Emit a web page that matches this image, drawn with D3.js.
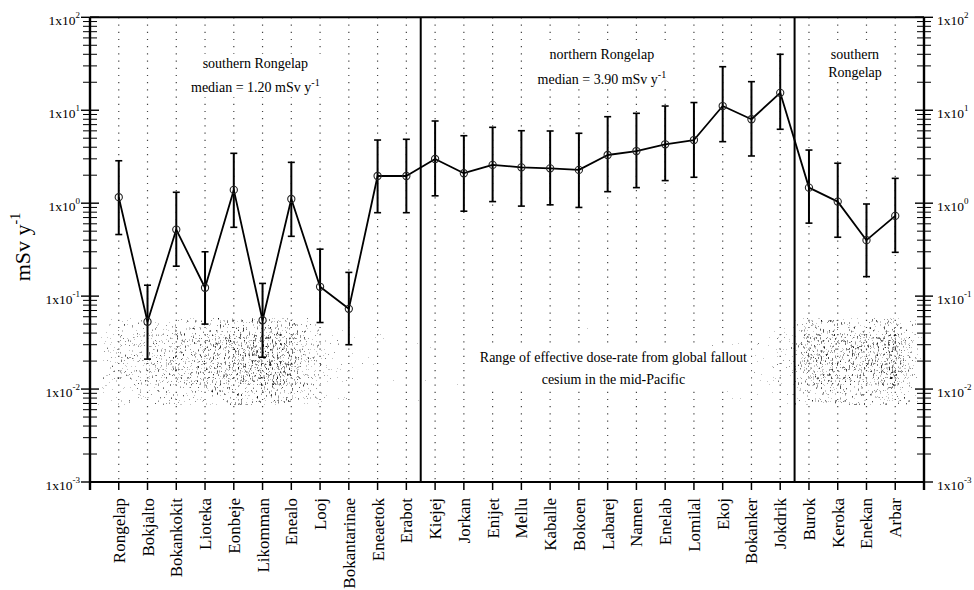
<!DOCTYPE html>
<html>
<head>
<meta charset="utf-8">
<script src="https://cdn.jsdelivr.net/npm/d3@7"></script>
<style>
  body { margin: 0; background: #fff; }
  svg { display: block; font-family: "Liberation Serif", "Times New Roman", serif; }
</style>
</head>
<body>
<svg id="chart" width="974" height="590"></svg>
<script>
// Islands of Rongelap Atoll, in survey order
const islands = [
  "Rongelap", "Bokjalto", "Bokankokit", "Lioteka", "Eonbeje", "Likomman", "Enealo",
  "Looj", "Bokantarinae", "Eneaetok", "Erabot", "Kiejej", "Jorkan", "Enijet", "Mellu",
  "Kaballe", "Bokoen", "Labarej", "Namen", "Enelab", "Lomilal", "Ekoj", "Bokanker",
  "Jokdrik", "Burok", "Keroka", "Enekan", "Arbar"
];

// Effective dose-rate (mSv per year): central estimate and error range
const doseMedian = [
  1.16, 0.053, 0.52, 0.123, 1.39, 0.055, 1.11,
  0.126, 0.073, 1.96, 1.96, 2.99, 2.10, 2.58, 2.43,
  2.37, 2.28, 3.30, 3.64, 4.30, 4.78, 11.1, 8.0,
  15.4, 1.47, 1.04, 0.40, 0.73
];
const doseLower = [
  0.46, 0.021, 0.21, 0.050, 0.55, 0.022, 0.44,
  0.052, 0.030, 0.79, 0.79, 1.20, 0.82, 1.04, 0.93,
  0.96, 0.90, 1.33, 1.47, 1.75, 1.90, 4.59, 3.22,
  6.24, 0.61, 0.43, 0.162, 0.296
];
const doseUpper = [
  2.86, 0.131, 1.31, 0.30, 3.44, 0.137, 2.75,
  0.32, 0.180, 4.78, 4.87, 7.66, 5.32, 6.55, 6.02,
  5.98, 5.65, 8.52, 9.27, 11.1, 12.1, 29.4, 20.3,
  40.0, 3.73, 2.69, 0.98, 1.85
];

// Decade ticks of the log axis
const decadeExponents = [-3, -2, -1, 0, 1, 2];

// Region boundaries, in island slots (between Erabot/Kiejej and Jokdrik/Burok)
const regionBreaks = [11.5, 24.5];
const regionTitles = [["southern Rongelap"], ["northern Rongelap"], ["southern", "Rongelap"]];
const regionMedians = [1.20, 3.90, null];
const regionCentres = [5.75, 17.8, 26.6];

// Global fallout cesium background band
const falloutRange = [0.0067, 0.058];
const falloutCore = [0.011, 0.04];
const falloutNote = ["Range of effective dose-rate from global fallout", "cesium in the mid-Pacific"];
// stipple density along the islands (slot, density)
const stippleSlots = [0.2, 0.5, 2, 4, 5.5, 6.5, 7.5, 8.5, 9.5, 10.5, 11.5, 13, 14.5, 16, 17.5, 19, 20.5, 21.5, 22.5, 23.5, 24.3, 25, 26, 27, 28, 28.8, 29];
const stippleDensity = [0, 0.6, 0.7, 0.8, 0.9, 0.95, 0.75, 0.45, 0.3, 0.2, 0.25, 0.12, 0.05, 0.1, 0.06, 0.1, 0.15, 0.3, 0.35, 0.4, 0.55, 0.85, 0.85, 0.8, 0.95, 0.5, 0];

const W = 974, H = 590;
const plotLeft = 90, plotRight = 924, plotTop = 17.3, plotBottom = 482;

const svg = d3.select("#chart");
svg.append("rect").attr("width", W).attr("height", H).attr("fill", "#fff");

const slot = d3.scaleLinear().domain([0, islands.length + 1]).range([plotLeft, plotRight]);
const x = name => slot(islands.indexOf(name) + 1);
const y = d3.scaleLog().domain([1e-3, 1e2]).range([plotBottom, plotTop]);

const defs = svg.append("defs");

// horizontal stipple density gradient
const grad = defs.append("linearGradient").attr("id", "stippleDensity")
  .attr("gradientUnits", "userSpaceOnUse")
  .attr("x1", plotLeft).attr("x2", plotRight).attr("y1", 0).attr("y2", 0);
stippleSlots.forEach((s, i) => {
  grad.append("stop")
    .attr("offset", (slot(s) - plotLeft) / (plotRight - plotLeft))
    .attr("stop-color", "#000")
    .attr("stop-opacity", stippleDensity[i]);
});

function stippleFilter(id, seed, freq) {
  const f = defs.append("filter").attr("id", id)
    .attr("x", 0).attr("y", 0).attr("width", 1).attr("height", 1)
    .attr("color-interpolation-filters", "sRGB");
  f.append("feTurbulence").attr("type", "fractalNoise").attr("baseFrequency", freq)
    .attr("numOctaves", 2).attr("seed", seed).attr("result", "noise");
  f.append("feColorMatrix").attr("in", "noise").attr("type", "matrix")
    .attr("values", "0 0 0 0 0  0 0 0 0 0  0 0 0 0 0  1 0 0 0 0").attr("result", "na");
  f.append("feComposite").attr("in", "na").attr("in2", "SourceGraphic")
    .attr("operator", "arithmetic").attr("k1", 0).attr("k2", 1).attr("k3", 0.3).attr("k4", -0.3)
    .attr("result", "mix");
  const ct = f.append("feComponentTransfer").attr("in", "mix");
  ct.append("feFuncA").attr("type", "discrete")
    .attr("tableValues", "0 0 0 0 0 0 0 0 0 0 0 0 0 0 0 0.25 0.45 0.6 0.75 0.9 1 1 1 1 1");
}
stippleFilter("stippleA", 4, "0.65 0.3");
stippleFilter("stippleB", 11, "0.75 0.35");

// vertical dotted grid at each island
svg.append("g").selectAll("line").data(islands).join("line")
  .attr("x1", d => x(d)).attr("x2", d => x(d))
  .attr("y1", plotTop).attr("y2", plotBottom)
  .attr("stroke", "#444").attr("stroke-width", 1.2)
  .attr("stroke-dasharray", "1.2 6");

// fallout band stipple
const band = svg.append("g").attr("opacity", 0.9);
band.append("rect")
  .attr("x", plotLeft).attr("width", plotRight - plotLeft)
  .attr("y", y(falloutRange[1])).attr("height", y(falloutRange[0]) - y(falloutRange[1]))
  .attr("fill", "url(#stippleDensity)").attr("filter", "url(#stippleA)");
band.append("rect")
  .attr("x", plotLeft).attr("width", plotRight - plotLeft)
  .attr("y", y(falloutCore[1])).attr("height", y(falloutCore[0]) - y(falloutCore[1]))
  .attr("fill", "url(#stippleDensity)").attr("filter", "url(#stippleB)");

// text with white backing box
function labelBlock(cx, lines, firstY, lineGap, size) {
  const g = svg.append("g");
  const bg = g.append("rect").attr("fill", "#fff");
  const t = g.append("text").attr("font-size", size).attr("text-anchor", "middle").attr("fill", "#000");
  lines.forEach((ln, i) => {
    const line = t.append("tspan").attr("x", cx).attr("y", firstY + i * lineGap);
    if (typeof ln === "string") line.text(ln);
    else {
      line.text(ln[0]);
      t.append("tspan").attr("dy", -0.45 * size).attr("font-size", size * 0.72).text(ln[1]);
    }
  });
  const b = t.node().getBBox();
  bg.attr("x", b.x - 4).attr("y", b.y - 2).attr("width", b.width + 8).attr("height", b.height + 4);
  return g;
}

const labelTop = [68, 59, 59];
const labelGap = [24, 25, 18];
regionTitles.forEach((title, i) => {
  const lines = title.slice();
  if (regionMedians[i] != null) lines.push(["median = " + regionMedians[i].toFixed(2) + " mSv y", "-1"]);
  labelBlock(slot(regionCentres[i]), lines, labelTop[i], labelGap[i], 14);
});

labelBlock(slot(18.2), falloutNote, 362, 22, 14);

// region separators
svg.append("g").selectAll("line").data(regionBreaks).join("line")
  .attr("x1", d => slot(d)).attr("x2", d => slot(d))
  .attr("y1", plotTop).attr("y2", plotBottom)
  .attr("stroke", "#000").attr("stroke-width", 2);

// error bars
const bars = svg.append("g").attr("stroke", "#000");
islands.forEach((name, i) => {
  const cx = x(name);
  bars.append("line").attr("x1", cx).attr("x2", cx)
    .attr("y1", y(doseUpper[i])).attr("y2", y(doseLower[i])).attr("stroke-width", 2);
  [doseUpper[i], doseLower[i]].forEach(v => {
    bars.append("line").attr("x1", cx - 3.5).attr("x2", cx + 3.5)
      .attr("y1", y(v)).attr("y2", y(v)).attr("stroke-width", 1.6);
  });
});

// connecting line and markers
const line = d3.line().x((d, i) => x(islands[i])).y(d => y(d));
svg.append("path").datum(doseMedian).attr("d", line)
  .attr("fill", "none").attr("stroke", "#000").attr("stroke-width", 1.8).attr("stroke-linejoin", "round");
svg.append("g").selectAll("circle").data(doseMedian).join("circle")
  .attr("cx", (d, i) => x(islands[i])).attr("cy", d => y(d)).attr("r", 3.6)
  .attr("fill", "none").attr("stroke", "#222").attr("stroke-width", 1.1);

// frame: top border and bottom axis
svg.append("line").attr("x1", plotLeft).attr("x2", plotRight).attr("y1", plotTop).attr("y2", plotTop)
  .attr("stroke", "#000").attr("stroke-width", 2);
svg.append("line").attr("x1", plotLeft).attr("x2", plotRight).attr("y1", plotBottom).attr("y2", plotBottom)
  .attr("stroke", "#000").attr("stroke-width", 2);

// bottom ticks and island names
const xAxis = svg.append("g");
xAxis.selectAll("line").data(islands).join("line")
  .attr("x1", d => x(d)).attr("x2", d => x(d)).attr("y1", plotBottom).attr("y2", plotBottom + 8)
  .attr("stroke", "#000").attr("stroke-width", 1.5);
xAxis.selectAll("text").data(islands).join("text")
  .attr("transform", d => `translate(${x(d) + 6},${plotBottom + 16}) rotate(-90)`)
  .attr("text-anchor", "end").attr("font-size", 17).attr("fill", "#000")
  .text(d => d);

// both log axes
const minorValues = [];
for (let k = -3; k < 2; k++) for (let m = 2; m <= 9; m++) minorValues.push(m * Math.pow(10, k));

[plotLeft, plotRight].forEach((ax, side) => {
  const g = svg.append("g");
  g.append("line").attr("x1", ax).attr("x2", ax).attr("y1", plotTop).attr("y2", plotBottom + 8)
    .attr("stroke", "#000").attr("stroke-width", 2.4);
  g.selectAll("line.minor").data(minorValues).join("line").attr("class", "minor")
    .attr("x1", ax - 7).attr("x2", ax + 7).attr("y1", d => y(d)).attr("y2", d => y(d))
    .attr("stroke", "#000").attr("stroke-width", 1);
  g.selectAll("line.major").data(decadeExponents).join("line").attr("class", "major")
    .attr("x1", ax - 9).attr("x2", ax + 9)
    .attr("y1", d => y(Math.pow(10, d))).attr("y2", d => y(Math.pow(10, d)))
    .attr("stroke", "#000").attr("stroke-width", 1.4);
  const labels = g.selectAll("text").data(decadeExponents).join("text")
    .attr("x", side === 0 ? ax - 10 : ax + 13)
    .attr("y", d => y(Math.pow(10, d)) + 8)
    .attr("text-anchor", side === 0 ? "end" : "start")
    .attr("font-size", 13.5).attr("fill", "#000");
  labels.append("tspan").text("1x10");
  labels.append("tspan").attr("dy", -7).attr("font-size", 9).text(d => String(d));
});

// y-axis title
const yTitle = svg.append("text")
  .attr("transform", "translate(30,247) rotate(-90)")
  .attr("text-anchor", "middle").attr("font-size", 22).attr("fill", "#000");
yTitle.append("tspan").text("mSv y");
yTitle.append("tspan").attr("dy", -10).attr("font-size", 14).text("-1");
</script>
</body>
</html>
